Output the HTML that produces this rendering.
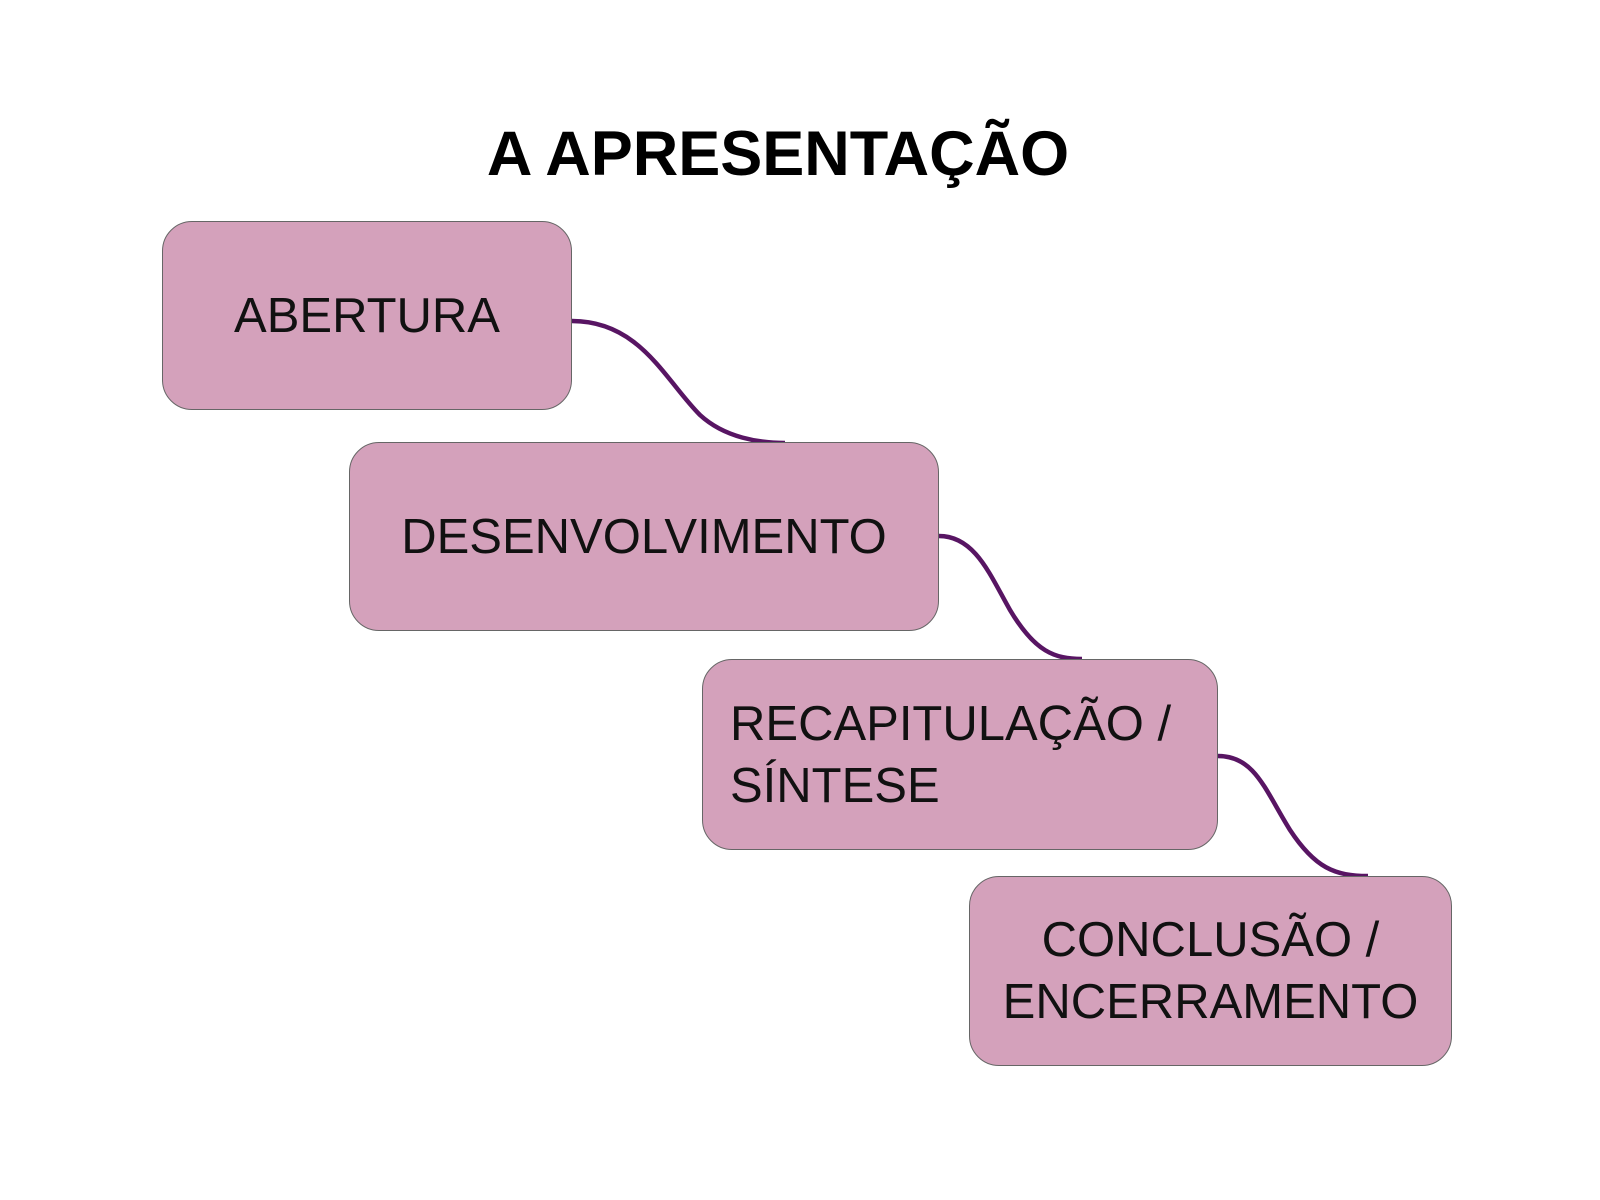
<!DOCTYPE html>
<html><head><meta charset="utf-8"><style>
html,body{margin:0;padding:0;background:#fff;}
body{width:1600px;height:1200px;position:relative;overflow:hidden;font-family:"Liberation Sans","DejaVu Sans",sans-serif;}
.t{position:absolute;left:-22px;width:1600px;top:118px;text-align:center;font-weight:bold;font-size:63px;color:#000;}
.b{position:absolute;box-sizing:border-box;background:#d4a1bb;border:1.5px solid #666;border-radius:30px;display:flex;align-items:center;color:#111;font-size:49px;line-height:62px;}
</style></head><body>
<svg width="1600" height="1200" style="position:absolute;left:0;top:0">
<g fill="none" stroke="#581563" stroke-width="4.5">
<path d="M572 321 C640 321 665 380 700 415 C725 438 760 443 785 443"/>
<path d="M939 536 C975 536 990 575 1010 610 C1035 652 1055 659 1082 659"/>
<path d="M1218 756 C1255 756 1265 790 1290 830 C1315 868 1335 876 1368 876"/>
</g></svg>
<div class="t">A APRESENTAÇÃO</div>
<div class="b" style="left:162px;top:221px;width:410px;height:189px;justify-content:center;">ABERTURA</div>
<div class="b" style="left:349px;top:442px;width:590px;height:189px;justify-content:center;">DESENVOLVIMENTO</div>
<div class="b" style="left:702px;top:659px;width:516px;height:191px;padding-left:27px;">RECAPITULAÇÃO /<br>SÍNTESE</div>
<div class="b" style="left:969px;top:876px;width:483px;height:190px;justify-content:center;text-align:center;">CONCLUSÃO /<br>ENCERRAMENTO</div>
</body></html>
